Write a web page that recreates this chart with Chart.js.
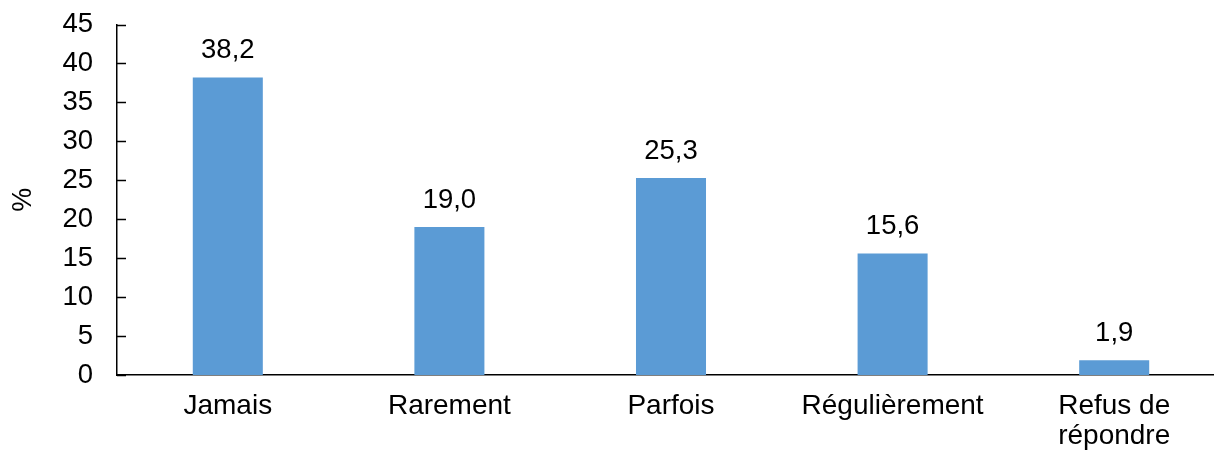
<!DOCTYPE html>
<html>
<head>
<meta charset="utf-8">
<script src="https://cdn.jsdelivr.net/npm/chart.js@4"></script>
<style>
html,body{margin:0;padding:0;background:#fff;overflow:hidden;}
#wrap{width:1230px;height:453px;position:relative;}
</style>
</head>
<body>
<div id="wrap"><canvas id="c"></canvas></div>
<script>
const categories = ['Jamais', 'Rarement', 'Parfois', 'Régulièrement', ['Refus de', 'répondre']];
const values = [38.2, 19.0, 25.3, 15.6, 1.9];
const yTicks = [0, 5, 10, 15, 20, 25, 30, 35, 40, 45];
const yTitle = '%';

const FONT = '"Liberation Sans", Arial, sans-serif';
const AXIS = '#000';

const valueLabels = {
  id: 'valueLabels',
  afterDatasetsDraw(chart) {
    const ctx = chart.ctx;
    const meta = chart.getDatasetMeta(0);
    ctx.save();
    ctx.font = '27.5px ' + FONT;
    ctx.fillStyle = '#000';
    ctx.textAlign = 'center';
    ctx.textBaseline = 'alphabetic';
    meta.data.forEach((bar, i) => {
      const v = chart.data.datasets[0].data[i];
      ctx.fillText(v.toFixed(1).replace('.', ','), bar.x, bar.y - 19);
    });
    ctx.restore();
  }
};

const innerTicks = {
  id: 'innerTicks',
  afterDraw(chart) {
    const ctx = chart.ctx;
    const y = chart.scales.y;
    const left = chart.chartArea.left;
    ctx.save();
    ctx.strokeStyle = AXIS;
    ctx.lineWidth = 1.5;
    yTicks.forEach(v => {
      const py = Math.round(y.getPixelForValue(v)) + 0.5;
      ctx.beginPath();
      ctx.moveTo(left, py);
      ctx.lineTo(left + 9, py);
      ctx.stroke();
    });
    ctx.restore();
  }
};

new Chart(document.getElementById('c'), {
  type: 'bar',
  data: {
    labels: categories,
    datasets: [{
      data: values,
      backgroundColor: '#5B9BD5',
      borderWidth: 0,
      categoryPercentage: 1,
      barPercentage: 0.316
    }]
  },
  options: {
    responsive: true,
    maintainAspectRatio: false,
    animation: false,
    devicePixelRatio: 1,
    layout: { padding: { top: 24.5, right: 5, left: 0, bottom: 0 } },
    plugins: { legend: { display: false }, tooltip: { enabled: false } },
    scales: {
      x: {
        grid: { display: false, drawTicks: false },
        border: { display: true, color: AXIS, width: 1.5 },
        ticks: {
          color: '#000',
          font: { family: FONT, size: 28, lineHeight: 1.07 },
          padding: 16,
          maxRotation: 0,
          autoSkip: false
        },
        afterFit(scale) { scale.height = 78; scale.paddingLeft = 0; scale.paddingRight = 0; }
      },
      y: {
        min: 0,
        max: 45,
        afterBuildTicks(scale) { scale.ticks = yTicks.map(v => ({ value: v })); },
        grid: { display: false, drawTicks: false },
        border: { display: true, color: AXIS, width: 1.5 },
        ticks: {
          color: '#000',
          font: { family: FONT, size: 27.5 },
          padding: 24
        },
        title: {
          display: true,
          text: yTitle,
          color: '#000',
          font: { family: FONT, size: 27 },
          padding: { top: 7, bottom: 0 }
        },
        afterFit(scale) { scale.width = 117; scale.paddingTop = 0; scale.paddingBottom = 0; }
      }
    }
  },
  plugins: [valueLabels, innerTicks]
});
</script>
</body>
</html>
